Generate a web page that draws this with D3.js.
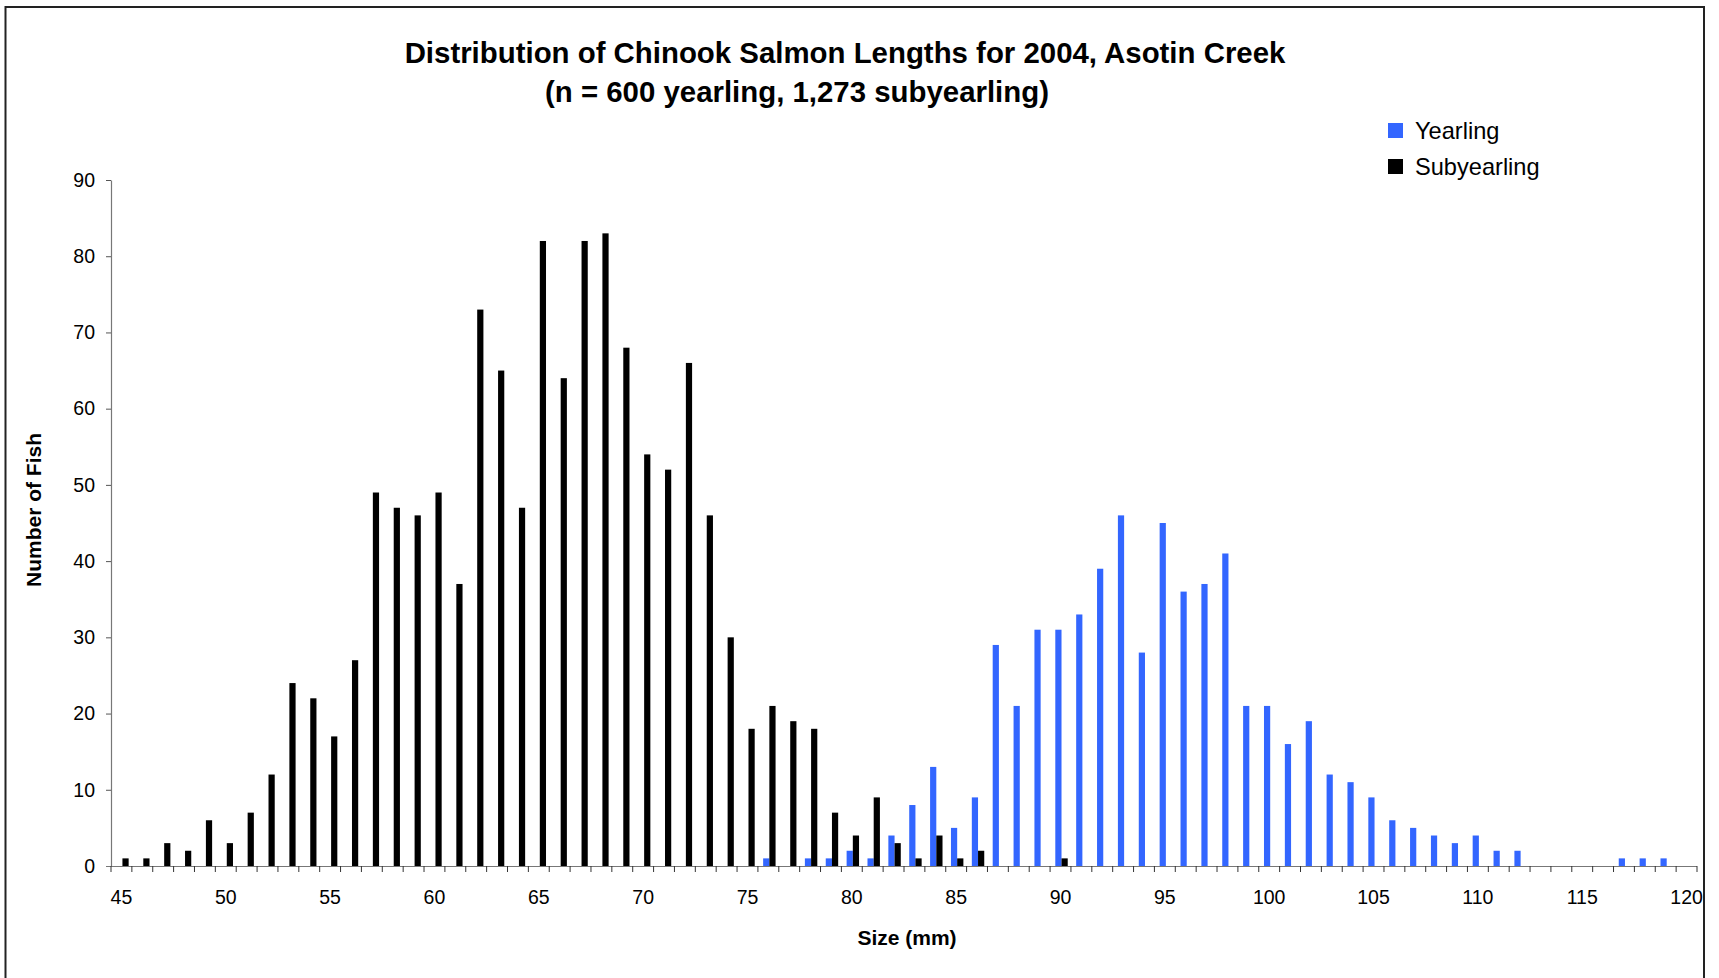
<!DOCTYPE html>
<html>
<head>
<meta charset="utf-8">
<script src="https://cdn.jsdelivr.net/npm/d3@7"></script>
<style>
  html, body { margin: 0; padding: 0; background: #fff; }
  svg { display: block; font-family: "Liberation Sans", Arial, sans-serif; }
</style>
</head>
<body>
<svg id="chart" width="1719" height="978"></svg>
<script>
// ---- Data ----
const categories = [45,46,47,48,49,50,51,52,53,54,55,56,57,58,59,60,61,62,63,64,65,66,67,68,69,70,
  71,72,73,74,75,76,77,78,79,80,81,82,83,84,85,86,87,88,89,90,91,92,93,94,95,96,97,98,99,100,
  101,102,103,104,105,106,107,108,109,110,111,112,113,114,115,116,117,118,119,120];

const yearling = [0,0,0,0,0,0,0,0,0,0,0,0,0,0,0,0,0,0,0,0,0,0,0,0,0,0,0,0,0,0,0,
  1,0,1,1,2,1,4,8,13,5,9,29,21,31,31,33,39,46,28,45,36,37,41,21,21,16,19,12,11,9,6,5,4,3,4,2,2,
  0,0,0,0,1,1,1,0];

const subyearling = [1,1,3,2,6,3,7,12,24,22,17,27,49,47,46,49,37,73,65,47,82,64,82,83,68,54,52,66,
  46,30,18,21,19,18,7,4,9,3,1,4,1,2,0,0,0,1,
  0,0,0,0,0,0,0,0,0,0,0,0,0,0,0,0,0,0,0,0,0,0,0,0,0,0,0,0,0,0];

const seriesNames = ["Yearling", "Subyearling"];
const seriesColors = ["#3366FF", "#000000"];
const yTicks = [0,10,20,30,40,50,60,70,80,90];
const xTickLabels = [45,50,55,60,65,70,75,80,85,90,95,100,105,110,115,120];

const titleLine1 = "Distribution of Chinook Salmon Lengths for 2004, Asotin Creek";
const titleLine2 = "(n = 600 yearling, 1,273 subyearling)";
const xTitle = "Size (mm)";
const yTitle = "Number of Fish";

// ---- Layout ----
const svg = d3.select("#chart");
const plotLeft = 111, plotRight = 1697, plotTop = 180, plotBottom = 866;

// chart border
svg.append("rect")
  .attr("x", 5.5).attr("y", 7).attr("width", 1698.5).attr("height", 1000)
  .attr("fill", "none").attr("stroke", "#222").attr("stroke-width", 2);

const x0 = d3.scaleBand().domain(categories).range([plotLeft, plotRight]).padding(0);
const x1 = d3.scaleBand().domain(seriesNames).range([0, x0.bandwidth()])
  .paddingInner(0).paddingOuter(0.68);
const y = d3.scaleLinear().domain([0, 90]).range([plotBottom, plotTop]);

const table = categories.map((c, i) => ({cat: c, values: [yearling[i], subyearling[i]]}));

// bars
const groups = svg.append("g").selectAll("g").data(table).join("g")
  .attr("transform", d => `translate(${x0(d.cat) + 1},0)`);
groups.selectAll("rect")
  .data(d => d.values.map((v, k) => ({name: seriesNames[k], value: v, color: seriesColors[k]})))
  .join("rect")
  .filter(d => d.value > 0)
  .attr("x", d => x1(d.name))
  .attr("width", x1.bandwidth())
  .attr("y", d => y(d.value))
  .attr("height", d => y(0) - y(d.value))
  .attr("fill", d => d.color);

// y axis
const yAxis = svg.append("g")
  .attr("transform", `translate(${plotLeft},0)`)
  .call(d3.axisLeft(y).tickValues(yTicks).tickSize(5).tickPadding(11).tickSizeOuter(0));
yAxis.select(".domain").attr("stroke", "#777").attr("stroke-width", 1.2);
yAxis.selectAll(".tick line").attr("stroke", "#555");
yAxis.selectAll(".tick text")
  .attr("font-size", "19.5px").attr("fill", "#000")
  .attr("font-family", "'Liberation Sans', Arial, sans-serif");

// x axis (labels every 5)
const xAxis = svg.append("g")
  .attr("transform", `translate(0,${plotBottom})`)
  .call(d3.axisBottom(x0).tickValues(xTickLabels).tickSize(0).tickPadding(24.5).tickSizeOuter(0));
xAxis.select(".domain").attr("stroke", "#777").attr("stroke-width", 1.2)
  .attr("d", `M${plotLeft - 5},0.5H${plotRight}`);
xAxis.selectAll(".tick text")
  .attr("font-size", "19.5px").attr("fill", "#000")
  .attr("font-family", "'Liberation Sans', Arial, sans-serif");
// category-boundary tick marks
const boundaries = categories.map(c => x0(c)).concat([x0(categories[categories.length - 1]) + x0.step()]);
xAxis.append("g").selectAll("line").data(boundaries).join("line")
  .attr("x1", d => d).attr("x2", d => d)
  .attr("y1", 0).attr("y2", 6)
  .attr("stroke", "#333").attr("stroke-width", 1);

// titles
svg.append("text").attr("x", 845).attr("y", 63).attr("text-anchor", "middle")
  .attr("font-size", "29.4px").attr("font-weight", "bold").text(titleLine1);
svg.append("text").attr("x", 797).attr("y", 102).attr("text-anchor", "middle")
  .attr("font-size", "29.4px").attr("font-weight", "bold").text(titleLine2);

svg.append("text").attr("x", 907).attr("y", 945).attr("text-anchor", "middle")
  .attr("font-size", "21px").attr("font-weight", "bold").text(xTitle);
svg.append("text").attr("transform", "translate(41,510) rotate(-90)")
  .attr("text-anchor", "middle")
  .attr("font-size", "21px").attr("font-weight", "bold").text(yTitle);

// legend
const legend = svg.append("g").attr("transform", "translate(1388,123)");
const li = legend.selectAll("g").data(seriesNames).join("g")
  .attr("transform", (d, i) => `translate(0,${i * 36})`);
li.append("rect").attr("width", 15).attr("height", 15)
  .attr("fill", (d, i) => seriesColors[i]);
li.append("text").attr("x", 27).attr("y", 16)
  .attr("font-size", "23.6px").attr("fill", "#000").text(d => d);
</script>
</body>
</html>
